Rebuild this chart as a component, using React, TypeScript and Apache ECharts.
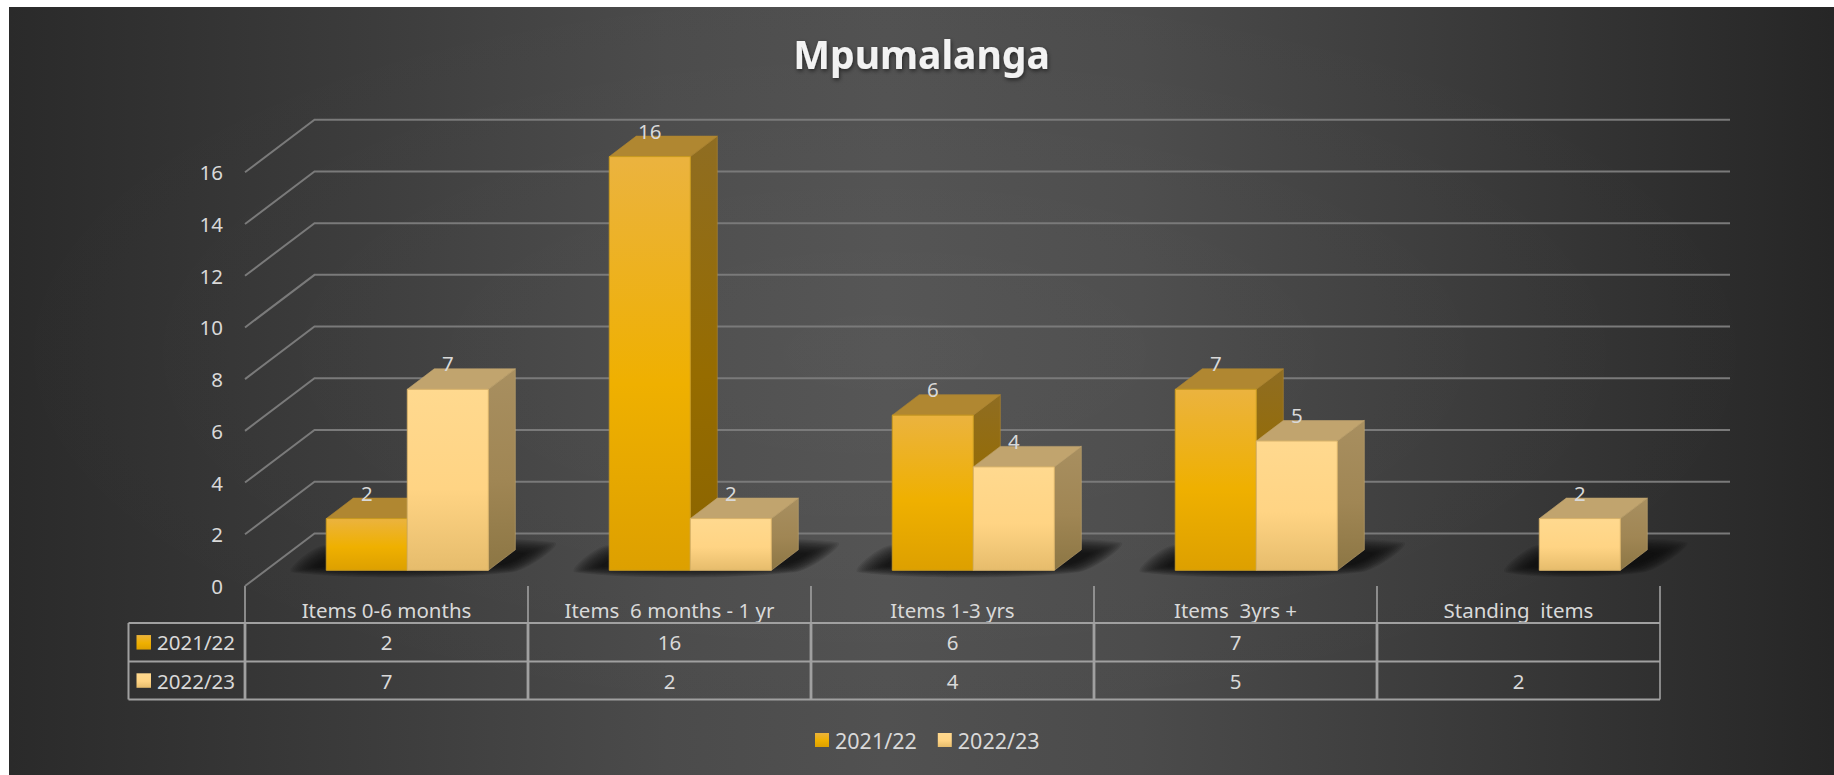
import React, { useEffect, useRef } from "react";
import * as echarts from "echarts";

const title = "Mpumalanga";
const categories = ["Items 0-6 months", "Items  6 months - 1 yr", "Items 1-3 yrs", "Items  3yrs +", "Standing  items"];
const seriesNames = ["2021/22", "2022/23"];
const values2122: (number | null)[] = [2, 16, 6, 7, null];
const values2223: (number | null)[] = [7, 2, 4, 5, 2];
const yTicks = [0, 2, 4, 6, 8, 10, 12, 14, 16];

const FONT = "'Noto Sans', sans-serif";
const TEXT = "#d9d9d9";
const FS = 20.5;
const WALL_DX = 69.5;
const WALL_DY = -52.6;
const WALL_RIGHT = 1730;
const PLANE_DX = 20.8;
const PLANE_DY = -15.7;
const DEPTH_DX = 27;
const DEPTH_DY = -20.5;
const GRID = { left: 245, top: 172.3, width: 1415, height: 413.7 };

const grad = (stops: [number, string][]) =>
  new echarts.graphic.LinearGradient(0, 0, 0, 1, stops.map(([offset, color]) => ({ offset, color })));

const palettes = [
  {
    legend: () => grad([[0, "#ebb33c"], [0.55, "#efb000"], [1, "#dda000"]]),
    front: () => grad([[0, "#ebb33f"], [0.55, "#efb000"], [1, "#dda000"]]),
    side: () => grad([[0, "#8f6d22"], [0.55, "#966c00"], [1, "#8a6400"]]),
    top: "#b08731",
    stroke: "#c99a1e",
  },
  {
    legend: () => grad([[0, "#ffd88e"], [0.55, "#ffd484"], [1, "#e6bc6c"]]),
    front: () => grad([[0, "#ffd98f"], [0.55, "#ffd484"], [1, "#e6bc6c"]]),
    side: () => grad([[0, "#a88f60"], [0.55, "#a08654"], [1, "#8c7644"]]),
    top: "#c1a46e",
    stroke: "#d8b26a",
  },
];

function barSeries(name: string, values: (number | null)[], index: number) {
  const pal = palettes[index];
  return {
    type: "custom",
    name,
    z: 3 + index,
    itemStyle: { color: pal.legend() },
    data: values.map((v, i) => [i, v]).filter((d) => d[1] !== null),
    renderItem: (_p: any, api: any) => {
      const cat = api.value(0);
      const val = api.value(1);
      const [cx, yTop0] = api.coord([cat, val]);
      const [, yBase0] = api.coord([cat, 0]);
      const w = api.size([1, 0])[0] * 0.2863;
      const x0 = cx + PLANE_DX + (index - 1) * w;
      const x1 = x0 + w;
      const yTop = yTop0 + PLANE_DY;
      const yBase = yBase0 + PLANE_DY;
      const d = DEPTH_DX;
      const e = DEPTH_DY;
      return {
        type: "group",
        children: [
          {
            type: "polygon",
            shape: { points: [[x1, yTop], [x1 + d, yTop + e], [x1 + d, yBase + e], [x1, yBase]] },
            style: { fill: pal.side(), stroke: pal.top, lineWidth: 0.6 },
          },
          {
            type: "polygon",
            shape: { points: [[x0, yTop], [x0 + d, yTop + e], [x1 + d, yTop + e], [x1, yTop]] },
            style: { fill: pal.top, stroke: pal.top, lineWidth: 0.6 },
          },
          {
            type: "rect",
            shape: { x: x0, y: yTop, width: w, height: yBase - yTop },
            style: { fill: pal.front(), stroke: pal.stroke, lineWidth: 1 },
          },
          {
            type: "text",
            style: {
              text: String(val),
              x: (x0 + x1) / 2,
              y: yTop - 26,
              fill: TEXT,
              font: `${FS}px ${FONT}`,
              align: "center",
              verticalAlign: "middle",
              textAlign: "center",
              textVerticalAlign: "middle",
            },
          },
        ],
      };
    },
  };
}

function shadowSeries() {
  const rows = categories.map((_, i) => [i, values2122[i] !== null ? 0 : 1]);
  const LAYERS = 16;
  return {
    type: "custom",
    silent: true,
    z: 2,
    data: rows,
    renderItem: (_p: any, api: any) => {
      const cat = api.value(0);
      const firstIdx = api.value(1);
      const [cx, yb] = api.coord([cat, 0]);
      const w = api.size([1, 0])[0] * 0.2863;
      const x0 = cx + PLANE_DX + (firstIdx - 1) * w;
      const x1 = cx + PLANE_DX + w;
      const y = yb + PLANE_DY;
      const outer = [[x0 - 34, y + 2], [x0 - 2, y - 25], [x1 + 66, y - 28], [x1 + 24, y + 2]];
      const inner = [[x0 - 6, y - 4], [x0 + 14, y - 14], [x1 + 34, y - 17], [x1 + 12, y - 6]];
      const children: any[] = [];
      for (let k = 0; k < LAYERS; k++) {
        const t = k / (LAYERS - 1);
        children.push({
          type: "polygon",
          shape: {
            points: outer.map((p, i) => [p[0] + (inner[i][0] - p[0]) * t, p[1] + (inner[i][1] - p[1]) * t]),
            smooth: 0.3,
          },
          style: { fill: "rgba(12,12,12,0.09)" },
        });
      }
      return { type: "group", children };
    },
  };
}

function wallSeries() {
  return {
    type: "custom",
    silent: true,
    z: 1,
    data: yTicks.map((v) => [0, v]),
    renderItem: (_p: any, api: any) => {
      const v = api.value(1);
      const [, y] = api.coord([0, v]);
      const x = GRID.left;
      return {
        type: "polyline",
        shape: { points: [[x, y], [x + WALL_DX, y + WALL_DY], [WALL_RIGHT, y + WALL_DY]] },
        style: { fill: "none", stroke: "#7a7a7a", lineWidth: 2 },
      };
    },
  };
}

function tableGraphics() {
  const left = 128.5;
  const x0 = GRID.left;
  const xEnd = GRID.left + GRID.width;
  const cw = GRID.width / categories.length;
  const rowsY = [623, 661.5, 699.5];
  const stroke = "#a0a0a0";
  const els: any[] = [];
  const line = (x1: number, y1: number, x2: number, y2: number, lw = 2) =>
    els.push({ type: "line", shape: { x1, y1, x2, y2 }, style: { stroke, lineWidth: lw }, z: 1 });
  rowsY.forEach((y) => line(left, y, xEnd, y));
  line(left, rowsY[0], left, rowsY[2]);
  for (let i = 0; i <= categories.length; i++) {
    const x = x0 + cw * i;
    line(x, 586, x, rowsY[0], 1.6);
    line(x, rowsY[0], x, rowsY[2], i === categories.length ? 1.6 : 2.8);
  }
  const rows = [values2122, values2223];
  const text = (t: string, x: number, y: number, align: string) =>
    els.push({
      type: "text",
      z: 2,
      style: {
        text: t,
        x,
        y,
        fill: TEXT,
        font: `${FS}px ${FONT}`,
        align,
        verticalAlign: "middle",
        textAlign: align,
        textVerticalAlign: "middle",
      },
    });
  rows.forEach((vals, r) => {
    const yc = (rowsY[r] + rowsY[r + 1]) / 2;
    els.push({
      type: "rect",
      z: 2,
      shape: { x: 136.5, y: yc - 7.2, width: 14.5, height: 14.5 },
      style: { fill: palettes[r].legend() },
    });
    text(seriesNames[r], 157, yc, "left");
    vals.forEach((v, c) => {
      if (v !== null) text(String(v), x0 + cw * (c + 0.5), yc, "center");
    });
  });
  return els;
}

export default function App() {
  const ref = useRef<HTMLDivElement>(null);
  useEffect(() => {
    const chart = echarts.init(ref.current!, undefined, { renderer: "svg" });
    chart.setOption({
      animation: false,
      backgroundColor: "#ffffff",
      title: {
        text: title,
        left: 916.5,
        top: 29,
        textAlign: "center",
        textStyle: {
          color: "#f2f2f2",
          fontFamily: FONT,
          fontWeight: "bold",
          fontSize: 39,
          textShadowColor: "rgba(0,0,0,0.55)",
          textShadowBlur: 4,
          textShadowOffsetX: 1,
          textShadowOffsetY: 2,
        },
      },
      legend: {
        data: seriesNames,
        left: 815,
        top: 729,
        padding: 0,
        icon: "rect",
        itemWidth: 14,
        itemHeight: 14,
        itemGap: 21,
        selectedMode: false,
        textStyle: { color: TEXT, fontFamily: FONT, fontSize: 21.5, padding: [0, 0, 0, 1] },
      },
      grid: { ...GRID },
      xAxis: {
        type: "category",
        data: categories,
        axisLine: { show: false },
        axisTick: { show: false },
        splitLine: { show: false },
        axisLabel: { color: TEXT, fontFamily: FONT, fontSize: FS, margin: 13, interval: 0 },
      },
      yAxis: {
        type: "value",
        min: 0,
        max: 16,
        interval: 2,
        axisLine: { show: false },
        axisTick: { show: false },
        splitLine: { show: false },
        axisLabel: { color: TEXT, fontFamily: FONT, fontSize: FS, margin: 22 },
      },
      graphic: {
        elements: [
          {
            type: "rect",
            z: -10,
            silent: true,
            shape: { x: 9, y: 7, width: 1825, height: 768 },
            style: {
              fill: new echarts.graphic.LinearGradient(0, 0, 1, 0, [
                { offset: 0, color: "#2a2a2a" },
                { offset: 0.2, color: "#3c3c3c" },
                { offset: 0.36, color: "#4b4b4b" },
                { offset: 0.48, color: "#515151" },
                { offset: 0.62, color: "#4b4b4b" },
                { offset: 0.8, color: "#3a3a3a" },
                { offset: 1, color: "#262626" },
              ]),
            },
          },
          {
            type: "rect",
            z: -9,
            silent: true,
            shape: { x: 9, y: 7, width: 1825, height: 768 },
            style: {
              fill: new echarts.graphic.RadialGradient(0.48, 0.45, 0.5, [
                { offset: 0, color: "rgba(255,255,255,0.035)" },
                { offset: 1, color: "rgba(255,255,255,0)" },
              ]),
            },
          },
          ...tableGraphics(),
        ],
      },
      series: [wallSeries(), shadowSeries(), barSeries(seriesNames[0], values2122, 0), barSeries(seriesNames[1], values2223, 1)],
    });
    return () => chart.dispose();
  }, []);
  return <div ref={ref} style={{ position: "absolute", left: 0, top: 0, width: 1834, height: 775 }} />;
}
